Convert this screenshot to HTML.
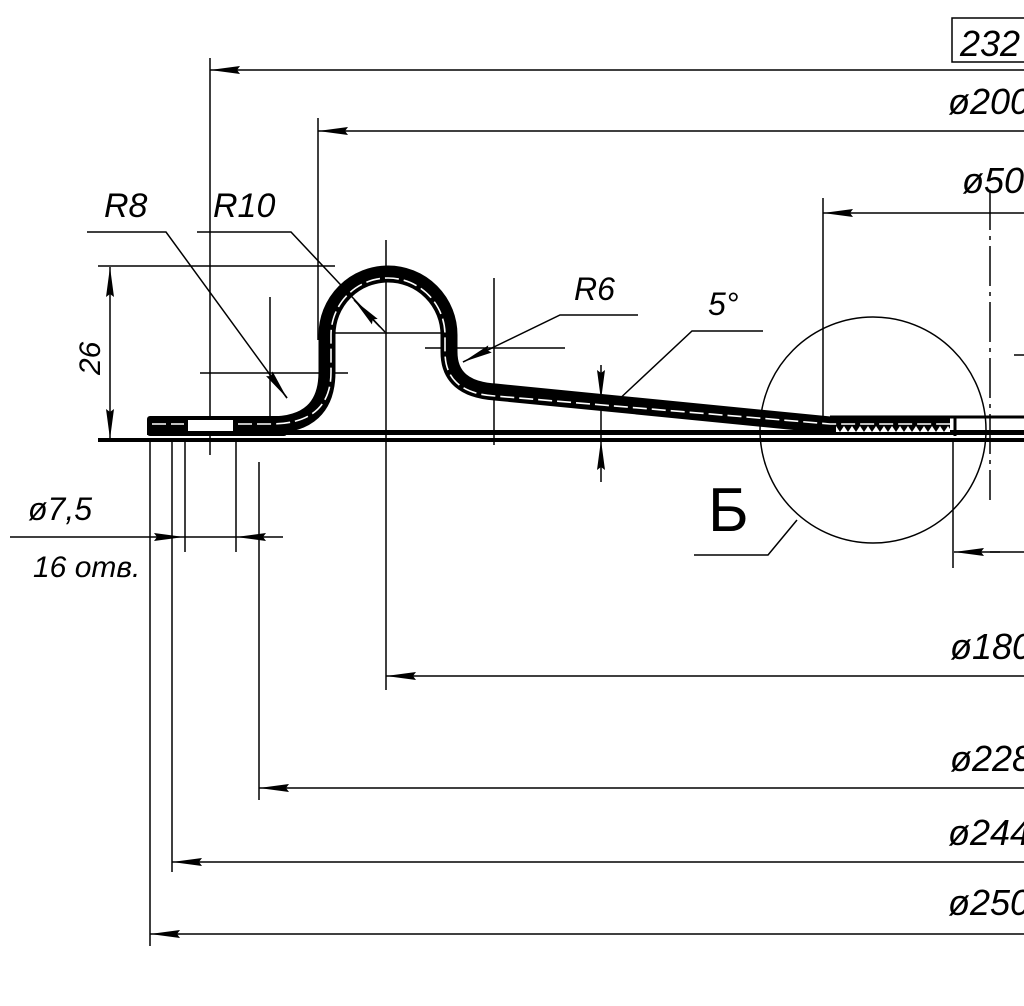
<!DOCTYPE html>
<html><head><meta charset="utf-8">
<style>
html,body{margin:0;padding:0;background:#fff;}
svg{display:block;}
text{font-family:"Liberation Sans",sans-serif;font-style:italic;fill:#000;}
</style></head>
<body>
<svg width="1024" height="1006" viewBox="0 0 1024 1006" xmlns="http://www.w3.org/2000/svg">
<defs>
<marker id="a" viewBox="0 0 30 10" refX="30" refY="5" markerWidth="30" markerHeight="10" markerUnits="userSpaceOnUse" orient="auto-start-reverse">
<path d="M30,5 L0,1 L3,5 L0,9 Z" fill="#000"/>
</marker>
<pattern id="h" width="8" height="8" patternUnits="userSpaceOnUse">
<rect width="8" height="8" fill="#000"/><path d="M0,8 L4,2 L8,8" fill="#fff"/>
</pattern>
</defs>
<g stroke="#000" stroke-width="1.5" fill="none">
<line x1="210" y1="58" x2="210" y2="455"/>
<line x1="318" y1="118" x2="318" y2="340"/>
<line x1="823" y1="198" x2="823" y2="416"/>
<line x1="386" y1="240" x2="386" y2="690"/>
<line x1="259" y1="462" x2="259" y2="800"/>
<line x1="236" y1="440" x2="236" y2="552"/>
<line x1="185" y1="440" x2="185" y2="552"/>
<line x1="172" y1="440" x2="172" y2="872"/>
<line x1="150" y1="440" x2="150" y2="946"/>
<line x1="953" y1="440" x2="953" y2="568"/>
<line x1="270" y1="297" x2="270" y2="420"/>
<line x1="494" y1="278" x2="494" y2="445"/>
<line x1="330" y1="333" x2="445" y2="333"/>
<line x1="200" y1="373" x2="348" y2="373"/>
<line x1="425" y1="348" x2="565" y2="348"/>
<line x1="98" y1="266" x2="335" y2="266"/>
<line x1="210" y1="70" x2="1024" y2="70" marker-start="url(#a)"/>
<line x1="318" y1="131" x2="1024" y2="131" marker-start="url(#a)"/>
<line x1="823" y1="213" x2="1024" y2="213" marker-start="url(#a)"/>
<line x1="386" y1="676" x2="1024" y2="676" marker-start="url(#a)"/>
<line x1="259" y1="788" x2="1024" y2="788" marker-start="url(#a)"/>
<line x1="172" y1="862" x2="1024" y2="862" marker-start="url(#a)"/>
<line x1="150" y1="934" x2="1024" y2="934" marker-start="url(#a)"/>
<line x1="110" y1="267" x2="110" y2="439" marker-start="url(#a)" marker-end="url(#a)"/>
<line x1="10" y1="537" x2="184" y2="537" marker-end="url(#a)"/>
<line x1="283" y1="537" x2="236" y2="537" marker-end="url(#a)"/>
<line x1="184" y1="537" x2="236" y2="537"/>
<line x1="954" y1="552" x2="1000" y2="552" marker-start="url(#a)"/>
<line x1="990" y1="552" x2="1024" y2="552"/>
<polyline points="87,232 166,232 287,398"/>
<path d="M268,372 L287,398" marker-end="url(#a)"/>
<polyline points="197,232 291,232 385,332"/>
<path d="M380,327 L354,300" marker-end="url(#a)"/>
<polyline points="638,315 560,315 463,362"/>
<path d="M492,348 L463,362" marker-end="url(#a)"/>
<polyline points="763,331 692,331 614,404"/>
<line x1="601" y1="365" x2="601" y2="400" marker-end="url(#a)"/>
<line x1="601" y1="482" x2="601" y2="440" marker-end="url(#a)"/>
<line x1="601" y1="400" x2="601" y2="440"/>
<circle cx="873" cy="430" r="113"/>
<polyline points="797,520 768,555 694,555"/>
<line x1="990" y1="190" x2="990" y2="500" stroke-dasharray="40,6,4,6"/>
<line x1="1014" y1="355" x2="1024" y2="355"/>
<rect x="952" y="18" width="80" height="44"/>
</g>
<rect x="147" y="430" width="877" height="5" fill="#000"/>
<rect x="98" y="438" width="926" height="4" fill="#000"/>
<line x1="830" y1="417" x2="1024" y2="417" stroke="#000" stroke-width="3"/>
<line x1="955" y1="417" x2="955" y2="436" stroke="#000" stroke-width="3"/>
<path d="M155,425 L270,425 Q327,425 327,372 L327,335 A61,61 0 0 1 449,335 L449,352 Q449,389 495,392 L830,425 L950,425" fill="none" stroke="#000" stroke-width="17" stroke-linejoin="round"/>
<rect x="147" y="416" width="140" height="20" rx="3" fill="#000"/>
<rect x="188" y="420" width="45" height="11" fill="#fff"/>
<path d="M152,424 L184,424 M238,424 L270,424 Q331,424 331,372 L331,335 A57,57 0 0 1 445,335 L445,352 Q445,393 495,396 L830,424 L950,424" fill="none" stroke="#fff" stroke-width="1.6" stroke-dasharray="14,5"/>
<rect x="836" y="426" width="114" height="8" fill="url(#h)"/>
<g font-size="36">
<text x="960" y="56">232</text>
<text x="948" y="114">ø200</text>
<text x="962" y="193">ø50</text>
<text x="950" y="659">ø180</text>
<text x="950" y="771">ø228</text>
<text x="948" y="845">ø244</text>
<text x="948" y="915">ø250</text>
<text x="104" y="217" font-size="34">R8</text>
<text x="213" y="217" font-size="34">R10</text>
<text x="574" y="300" font-size="32">R6</text>
<text x="708" y="315" font-size="32">5°</text>
<text x="28" y="520" font-size="32">ø7,5</text>
<text x="33" y="577" font-size="30">16 отв.</text>
<text transform="translate(100,375) rotate(-90)" font-size="30">26</text>
</g>
<text x="708" y="531" font-size="62" style="font-style:normal">Б</text>
</svg>
</body></html>
